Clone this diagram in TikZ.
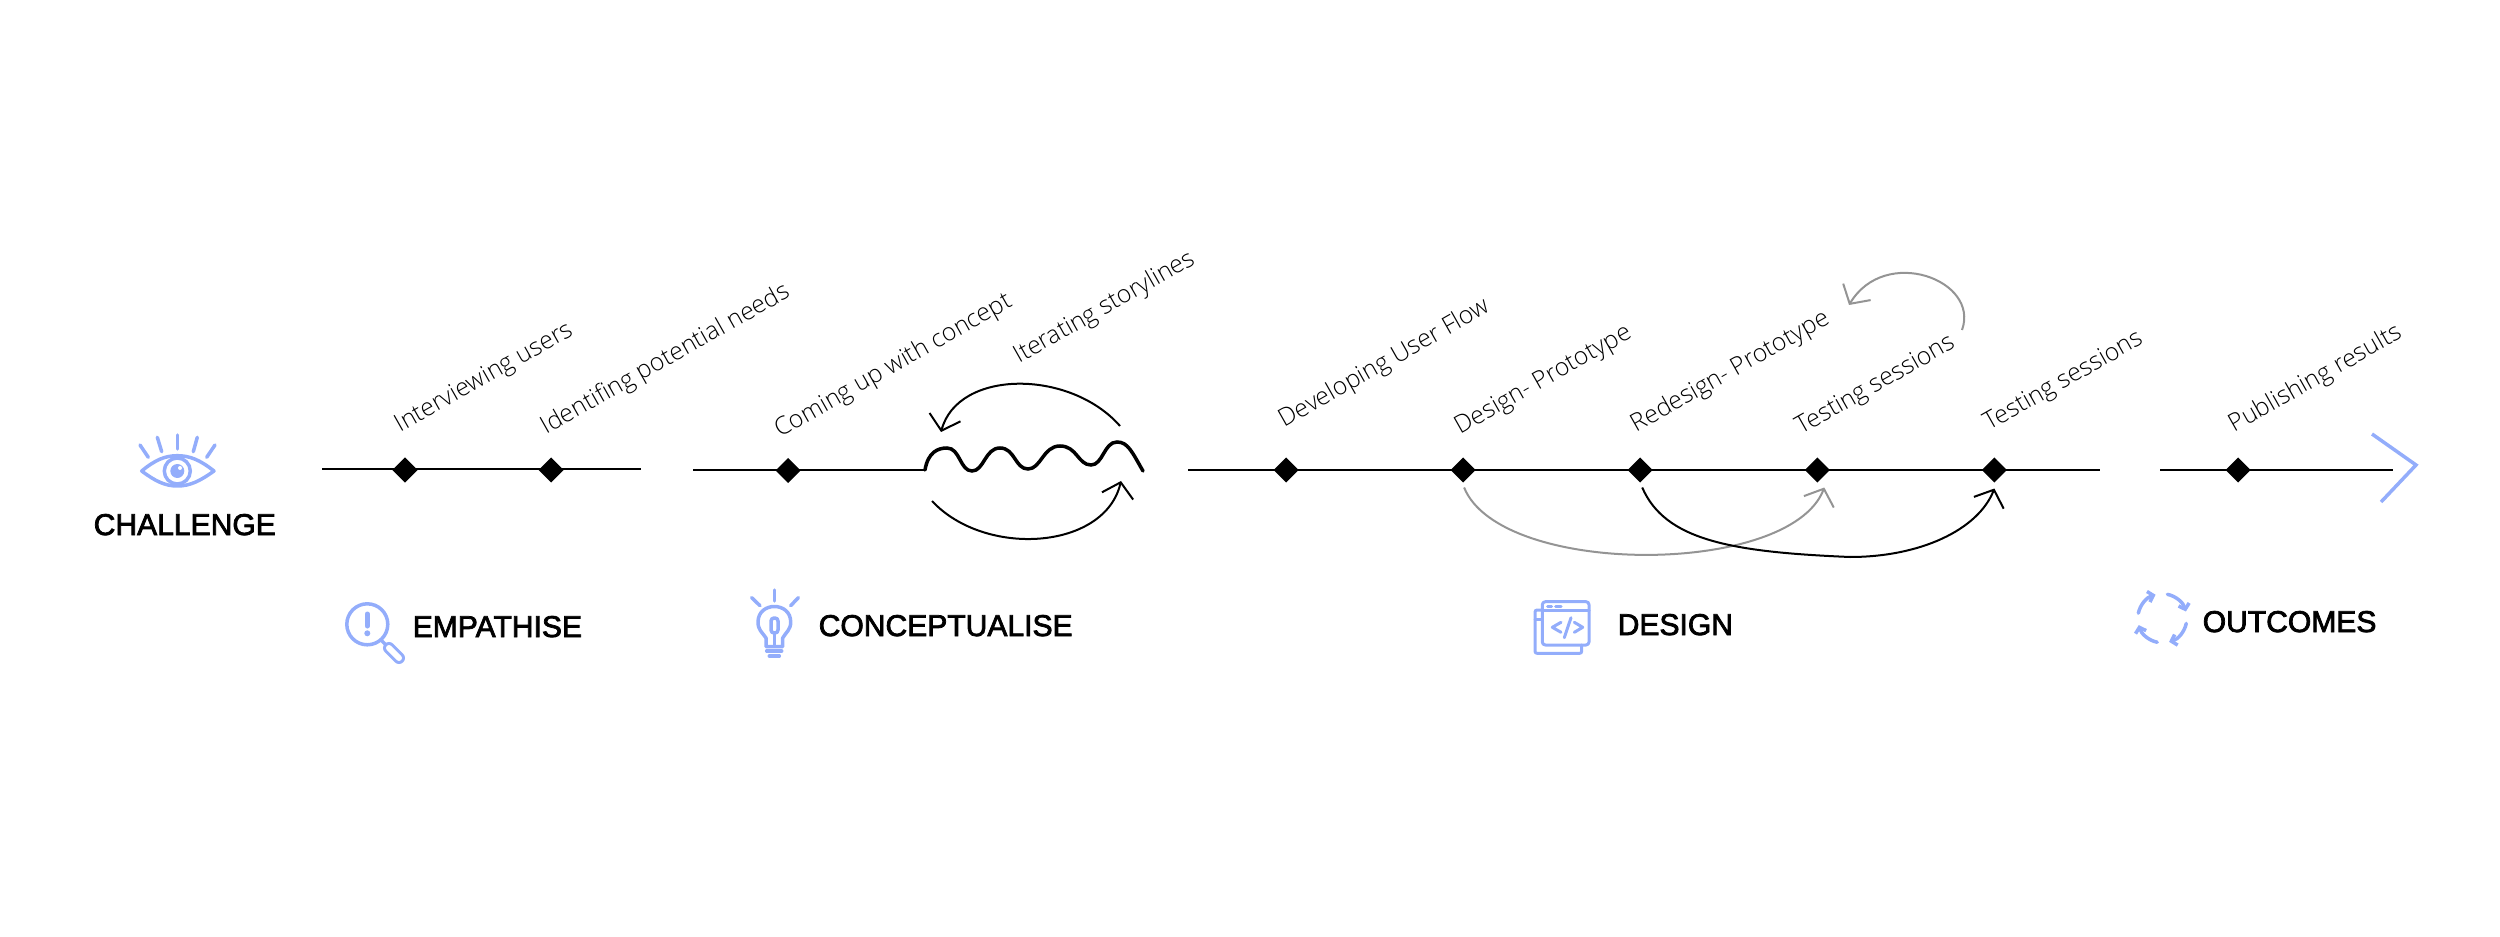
\documentclass[tikz,border=0pt]{standalone}
\usepackage{fontspec}
\usetikzlibrary{positioning, arrows.meta, shapes.geometric, calc}
\setmainfont{Liberation Sans}
\newfontfamily\labelfont{Open Sans Light}
\newfontfamily\headfont[FakeBold=2.5]{Liberation Sans}
\definecolor{iconblue}{HTML}{93ADFB}

\begin{document}
\begin{tikzpicture}[
    x=0.01cm, y=-0.01cm,
    milestone/.style={draw=none, fill=black, diamond, aspect=1, inner sep=0pt, outer sep=0pt, minimum width=0.25cm, minimum height=0.25cm},
    steplabel/.style={anchor=base west, rotate=29.5, inner sep=0pt, font=\labelfont\fontsize{7pt}{8pt}\selectfont},
    phase/.style={anchor=base west, inner sep=0pt, font=\headfont\fontsize{8.55pt}{10pt}\selectfont},
    track/.style={line width=0.02cm, black},
    loopback/.style={line width=0.02cm, black, -{Straight Barb[length=0.14cm, width=0.32cm]}},
    greyloop/.style={loopback, black!42},
    icon/.style={line width=0.035cm, iconblue, line cap=round, line join=round}
]
\useasboundingbox (0,0) rectangle (2500,937);

% Tracks
\coordinate (emphStart) at (322,469);
\coordinate (emphEnd) at (641,469);
\coordinate (concStart) at (693,470);
\coordinate (concEnd) at (925,470);
\coordinate (designStart) at (1188,470);
\coordinate (designEnd) at (2100,470);
\coordinate (outStart) at (2160,470);
\coordinate (outEnd) at (2393,470);
\draw[track] (emphStart) -- (emphEnd);
\draw[track] (concStart) -- (concEnd);
\draw[track] (designStart) -- (designEnd);
\draw[track] (outStart) -- (outEnd);

% Milestones
\node[milestone] (interview) at (405,470) {};
\node[milestone, right=1.21cm of interview] (needs) {};
\node[milestone] (concept) at (788,470.5) {};
\node[milestone] (userflow) at (1286,470) {};
\node[milestone, right=1.52cm of userflow] (prototype) {};
\node[milestone, right=1.52cm of prototype] (redesign) {};
\node[milestone, right=1.52cm of redesign] (testA) {};
\node[milestone, right=1.52cm of testA] (testB) {};
\node[milestone] (publish) at (2238,470) {};

% Labels
\node[steplabel] (lblInterview) at (400,433) {Interviewing users};
\node[steplabel] (lblNeeds) at (546,435) {Identifing potential needs};
\node[steplabel] (lblConcept) at (780,438) {Coming up with concept};
\node[steplabel] (lblStory) at (1019,364) {Iterating storylines};
\node[steplabel] (lblFlow) at (1284,428) {Developing User Flow};
\node[steplabel] (lblProto) at (1460,435) {Design- Prototype};
\node[steplabel] (lblRedesign) at (1636,433) {Redesign- Prototype};
\node[steplabel] (lblTestA) at (1801,435) {Testing sessions};
\node[steplabel] (lblTestB) at (1989,431) {Testing sessions};
\node[steplabel] (lblPublish) at (2234,433) {Publishing results};

\node[phase] (challenge) at (93,535) {CHALLENGE};
\node[phase] (empathise) at (412,637) {EMPATHISE};
\node[phase] (conceptualise) at (818,636) {CONCEPTUALISE};
\node[phase] (design) at (1617,635) {DESIGN};
\node[phase] (outcomes) at (2202,632) {OUTCOMES};

% Storyline wave and its two loops
\draw[line width=0.035cm, line cap=round] (concEnd) .. controls (928,452) and (938,448) .. (947,448) .. controls (960,448) and (960,471) .. (972,471) .. controls (984,471) and (985,448) .. (1000,448) .. controls (1015,448) and (1015,469) .. (1028,469) .. controls (1041,469) and (1043,446) .. (1060,446) .. controls (1077,446) and (1078,465) .. (1091,465) .. controls (1103,465) and (1104,442) .. (1117,442) .. controls (1128,442) and (1132,452) .. (1143,471);
\coordinate (loopTopA) at (1120,426);
\coordinate (loopTopB) at (941,432);
\coordinate (loopLowA) at (932,501);
\coordinate (loopLowB) at (1121,481);
\draw[loopback] (loopTopA) .. controls (1070,369) and (958,369) .. (loopTopB);
\draw[loopback] (loopLowA) .. controls (985,558) and (1105,550) .. (loopLowB);

% Design iterations
\draw[greyloop] ($(prototype.south)+(1,5)$) .. controls (1500,577) and (1790,577) .. ($(testA.south)+(7,5)$);
\draw[loopback] ($(redesign.south)+(2,5)$) .. controls (1665,540) and (1730,552) .. (1850,557) .. controls (1920,557) and (1978,530) .. ($(testB.south)+(0,6)$);
\coordinate (repeatA) at (1962,330);
\coordinate (repeatB) at (1849,305);
\draw[greyloop] (repeatA) .. controls (1980,280) and (1885,245) .. (repeatB);

% Final chevron
\draw[line width=0.035cm, iconblue] (2372,434) -- (2416,465) -- (2381,502);

% Eye
\draw[icon] (141.7,471) .. controls (155,460) and (165,455.7) .. (177.3,455.7) .. controls (190,455.7) and (200,460) .. (214,471) .. controls (200,481) and (190,486) .. (177.3,486) .. controls (165,486) and (155,481) .. (141.7,471) -- cycle;
\draw[icon] (177.3,471) circle (13);
\fill[iconblue] (177.3,471) circle (7);
\fill[white] (180,468) circle (2);
\foreach \xa/\ya/\xb/\yb in {177.3/435/177.3/449, 157.3/437.3/161.7/451.7, 140/445/148.3/457.3, 197.3/437.3/193.3/451.7, 215/445/206.7/457.3}
    \draw[icon] (\xa,\ya) -- (\xb,\yb);

% Magnifier
\draw[icon] (367.3,624.3) circle (20.5);
\draw[iconblue, line width=0.05cm, line cap=round] (367.3,614) -- (367.3,626);
\fill[iconblue] (367.3,633.3) circle (3);
\draw[icon] (381,640) -- (386,645);
\draw[iconblue, line width=0.03cm, double=white, double distance=0.06cm, line cap=round] (389,648) -- (399,658);

% Bulb
\draw[icon] (766,646.7) -- (766,638) .. controls (762,632) and (758,630) .. (758,622) .. controls (758,612) and (766,606.5) .. (774.3,606.5) .. controls (783,606.5) and (790.7,612) .. (790.7,622) .. controls (790.7,630) and (786,632) .. (782.7,638) -- (782.7,646.7) -- cycle;
\draw[icon, rounded corners=0.03cm] (771,618) rectangle (778,633);
\draw[icon] (774.3,633) -- (774.3,646);
\foreach \xa/\ya/\xb/\yb in {766.7/651/781.7/651, 769.3/656/779.3/656, 774.3/590/774.3/601, 751.7/597.7/760/605.7, 798.3/597.7/790.7/605.7}
    \draw[icon] (\xa,\ya) -- (\xb,\yb);

% Code windows
\draw[icon, line width=0.03cm, rounded corners=0.03cm] (1542.3,601.7) rectangle (1589,645);
\draw[icon, line width=0.03cm] (1542.3,610) -- (1589,610);
\draw[icon, line width=0.03cm] (1547.7,606.7) -- (1551.7,606.7);
\draw[icon, line width=0.03cm] (1555.7,606.7) -- (1561,606.7);
\draw[icon, line width=0.03cm, rounded corners=0.02cm] (1542.3,610) -- (1535,610) -- (1535,653.3) -- (1581.7,653.3) -- (1581.7,645);
\draw[icon, line width=0.03cm] (1535,619) -- (1542.3,619);
\draw[icon, line width=0.03cm] (1561,622.3) -- (1552.3,627.3) -- (1561,632.3);
\draw[icon, line width=0.03cm] (1574.3,622.3) -- (1582.7,627.3) -- (1574.3,632.3);
\draw[icon, line width=0.03cm] (1571,617.7) -- (1564.3,637.7);

% Cycle arrows
\coordinate (cycleCentre) at (2162.3,618.3);
\foreach \a in {0,90,180,270}
    \draw[icon, -{Straight Barb[length=0.05cm, width=0.11cm]}] ($(cycleCentre)+(192+\a:24.5)$) arc (192+\a:254+\a:24.5);

\end{tikzpicture}
\end{document}
